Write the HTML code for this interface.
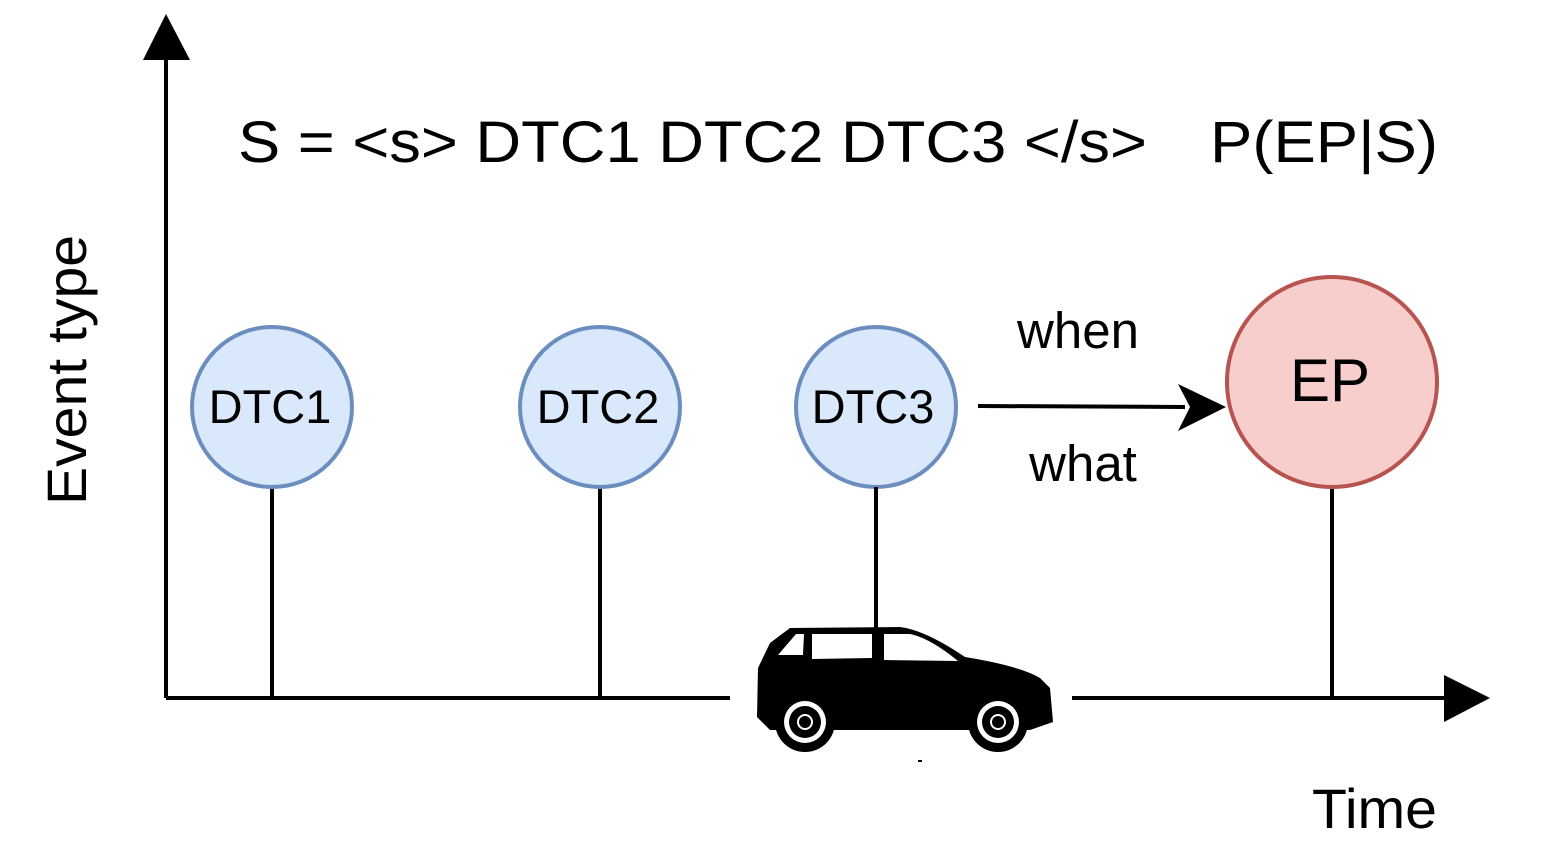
<!DOCTYPE html>
<html><head><style>body{margin:0;background:#fff}svg{display:block}text{font-family:"Liberation Sans",sans-serif;fill:#000}</style></head>
<body>
<svg width="1542" height="866" viewBox="0 0 1542 866" xmlns="http://www.w3.org/2000/svg">
<line x1="166" y1="698" x2="166" y2="50" stroke="#000" stroke-width="4"/>
<polygon points="166,14 143,60 190,60" fill="#000"/>
<line x1="166" y1="698" x2="730" y2="698" stroke="#000" stroke-width="4"/>
<line x1="1072" y1="698" x2="1455" y2="698" stroke="#000" stroke-width="4"/>
<polygon points="1490,698 1444,675 1444,722" fill="#000"/>
<line x1="272" y1="487" x2="272" y2="698" stroke="#000" stroke-width="4"/>
<line x1="600" y1="487" x2="600" y2="698" stroke="#000" stroke-width="4"/>
<line x1="1332" y1="488" x2="1332" y2="698" stroke="#000" stroke-width="4"/>
<circle cx="272" cy="407" r="80" fill="#dae8fc" stroke="#6c8ebf" stroke-width="4"/>
<circle cx="600" cy="407" r="80" fill="#dae8fc" stroke="#6c8ebf" stroke-width="4"/>
<circle cx="876" cy="407" r="80" fill="#dae8fc" stroke="#6c8ebf" stroke-width="4"/>
<circle cx="1332" cy="382" r="105" fill="#f8cecc" stroke="#b85450" stroke-width="4"/>
<text x="270" y="423" font-size="47" text-anchor="middle">DTC1</text>
<text x="598" y="423" font-size="47" text-anchor="middle">DTC2</text>
<text x="873" y="423" font-size="47" text-anchor="middle">DTC3</text>
<text x="1330" y="401" font-size="60" text-anchor="middle">EP</text>
<line x1="978" y1="406" x2="1185" y2="407" stroke="#000" stroke-width="4"/>
<polygon points="1226,407 1178,384 1190,407 1178,431" fill="#000"/>
<text x="1078" y="348" font-size="51" text-anchor="middle">when</text>
<text x="1083" y="481" font-size="51" text-anchor="middle">what</text>
<text x="238" y="162" font-size="58" textLength="909" lengthAdjust="spacingAndGlyphs">S = &lt;s&gt; DTC1 DTC2 DTC3 &lt;/s&gt;</text>
<text x="1210" y="162" font-size="58" textLength="228" lengthAdjust="spacingAndGlyphs">P(EP|S)</text>
<text transform="translate(86,370) rotate(-90)" font-size="56" text-anchor="middle" textLength="270" lengthAdjust="spacingAndGlyphs">Event type</text>
<text x="1312" y="828" font-size="56" textLength="125" lengthAdjust="spacingAndGlyphs">Time</text>
<!-- car -->
<path d="M790,628 L900,627 Q925,630 965,657 Q1020,666 1040,678 L1050,688 L1053,722 L1030,730 L770,730 L757,717 L758,668 L770,643 Z" fill="#000"/>
<path d="M778,655 L796,634 L804,634 L803,655 Z" fill="#fff"/>
<path d="M812,634 L872,634 L872,658 L812,659 Z" fill="#fff"/>
<path d="M884,634 L910,634 Q930,638 958,661 L884,660 Z" fill="#fff"/>
<line x1="876" y1="487" x2="876" y2="662" stroke="#000" stroke-width="4"/>
<circle cx="805" cy="722" r="30" fill="#000"/>
<circle cx="805" cy="722" r="21" fill="#fff"/>
<circle cx="805" cy="722" r="16" fill="#000"/>
<circle cx="805" cy="722" r="8" fill="#fff"/>
<circle cx="805" cy="722" r="6" fill="#000"/>
<circle cx="998" cy="722" r="30" fill="#000"/>
<circle cx="998" cy="722" r="21" fill="#fff"/>
<circle cx="998" cy="722" r="16" fill="#000"/>
<circle cx="998" cy="722" r="8" fill="#fff"/>
<circle cx="998" cy="722" r="6" fill="#000"/>
<rect x="918" y="760" width="4" height="2" fill="#000"/>
</svg>
</body></html>
